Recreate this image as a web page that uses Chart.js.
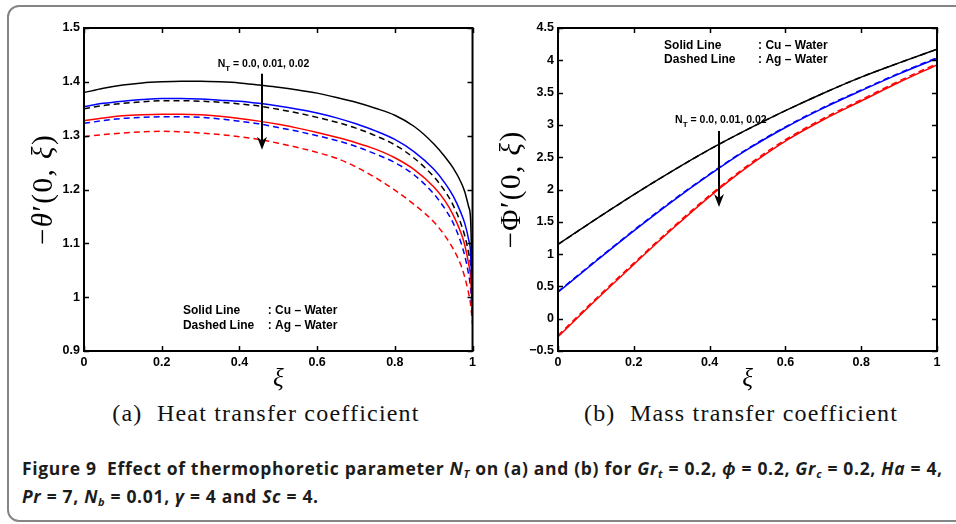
<!DOCTYPE html>
<html>
<head>
<meta charset="utf-8">
<style>
  *{margin:0;padding:0;box-sizing:border-box}
  html,body{width:956px;height:524px;background:#fff;overflow:hidden}
  body{position:relative}
  .frame{position:absolute;left:7px;top:5px;width:1000px;height:517px;border:2px solid #858585;border-radius:12px}
  canvas{position:absolute;top:0}
  #chartA{left:0}
  #chartB{left:480px}
  .sub{position:absolute;top:400px;width:480px;text-align:center;font-family:'Liberation Serif',serif;font-size:24px;letter-spacing:1.2px;color:#111;white-space:nowrap}
  .cap{position:absolute;left:22px;font-family:'Open Sans','Roboto',sans-serif;font-weight:bold;font-size:17.5px;letter-spacing:0.68px;color:#1c1c1c;white-space:nowrap}
  .cap i{font-style:italic}
  .cap sub{font-size:11px;vertical-align:-3px}
</style>
</head>
<body>
<div class="frame"></div>
<canvas id="chartA" width="480" height="400"></canvas>
<canvas id="chartB" width="476" height="400"></canvas>
<div class="sub" style="left:26px">(a)&nbsp; Heat transfer coefficient</div>
<div class="sub" style="left:501px">(b)&nbsp; Mass transfer coefficient</div>
<div class="cap" style="top:456px">Figure 9&nbsp; Effect of thermophoretic parameter <i>N<sub>T</sub></i> on (a) and (b) for <i>Gr<sub>t</sub></i> = 0.2, <i>ϕ</i> = 0.2, <i>Gr<sub>c</sub></i> = 0.2, <i>Ha</i> = 4,</div>
<div class="cap" style="top:484px"><i>Pr</i> = 7, <i>N<sub>b</sub></i> = 0.01, <i>γ</i> = 4 and <i>Sc</i> = 4.</div>

<script src="https://cdn.jsdelivr.net/npm/chart.js@4/dist/chart.umd.min.js"></script>
<script>
// ─── Data ──────────────────────────────────────────────────────

// (a) heat transfer coefficient  −θ′(0, ξ)
const xiA = [0, 0.05, 0.1, 0.15, 0.2, 0.25, 0.3, 0.35, 0.4, 0.45, 0.5, 0.55, 0.6,
  0.65, 0.7, 0.75, 0.8, 0.85, 0.9, 0.93, 0.95, 0.97, 0.98, 0.99, 0.995, 1.0];
const heatCuNt0 = [1.380, 1.388, 1.394, 1.398, 1.400, 1.401, 1.401, 1.400, 1.398, 1.394, 1.390, 1.385, 1.379,
  1.371, 1.362, 1.351, 1.338, 1.317, 1.285, 1.260, 1.240, 1.214, 1.196, 1.168, 1.145, 1.000];
const heatCuNt1 = [1.354, 1.360, 1.364, 1.367, 1.369, 1.369, 1.368, 1.366, 1.364, 1.360, 1.355, 1.349, 1.342,
  1.333, 1.322, 1.309, 1.293, 1.270, 1.238, 1.211, 1.188, 1.157, 1.137, 1.107, 1.082, 0.980];
const heatCuNt2 = [1.328, 1.333, 1.337, 1.339, 1.340, 1.340, 1.339, 1.336, 1.332, 1.327, 1.321, 1.314, 1.306,
  1.297, 1.287, 1.275, 1.259, 1.237, 1.205, 1.178, 1.153, 1.120, 1.097, 1.062, 1.037, 0.970];
const heatAgNt0 = [1.350, 1.356, 1.360, 1.363, 1.365, 1.365, 1.364, 1.362, 1.359, 1.355, 1.349, 1.342, 1.334,
  1.325, 1.314, 1.300, 1.283, 1.258, 1.224, 1.196, 1.171, 1.137, 1.114, 1.082, 1.057, 0.970];
const heatAgNt1 = [1.323, 1.328, 1.332, 1.334, 1.335, 1.335, 1.334, 1.331, 1.327, 1.322, 1.315, 1.308, 1.300,
  1.291, 1.280, 1.266, 1.250, 1.227, 1.192, 1.163, 1.138, 1.102, 1.077, 1.042, 1.017, 0.960];
const heatAgNt2 = [1.298, 1.302, 1.305, 1.307, 1.308, 1.307, 1.305, 1.302, 1.298, 1.293, 1.286, 1.278, 1.269,
  1.258, 1.242, 1.222, 1.199, 1.172, 1.140, 1.113, 1.090, 1.060, 1.037, 1.007, 0.987, 0.950];

// (b) mass transfer coefficient  −Φ′(0, ξ)
const xiB = [0, 0.1, 0.2, 0.3, 0.4, 0.5, 0.6, 0.7, 0.8, 0.9, 1.0];
const massCuNt0 = [1.15, 1.54, 1.92, 2.28, 2.62, 2.93, 3.22, 3.49, 3.74, 3.96, 4.17];
const massCuNt1 = [0.41, 0.89, 1.36, 1.81, 2.23, 2.62, 2.96, 3.26, 3.53, 3.79, 4.03];
const massCuNt2 = [-0.28, 0.29, 0.84, 1.38, 1.89, 2.35, 2.75, 3.08, 3.37, 3.66, 3.93];
const massAgNt0 = [1.15, 1.54, 1.92, 2.28, 2.62, 2.93, 3.22, 3.49, 3.74, 3.96, 4.17];
const massAgNt1 = [0.42, 0.90, 1.37, 1.82, 2.24, 2.63, 2.97, 3.27, 3.54, 3.80, 4.04];
const massAgNt2 = [-0.26, 0.31, 0.86, 1.40, 1.91, 2.37, 2.77, 3.10, 3.39, 3.68, 3.95];

// tick labels
const xTicks = [0, 0.2, 0.4, 0.6, 0.8, 1];
const yTicksA = [0.9, 1, 1.1, 1.2, 1.3, 1.4, 1.5];
const yTicksB = [-0.5, 0, 0.5, 1, 1.5, 2, 2.5, 3, 3.5, 4, 4.5];

// ─── Helpers ───────────────────────────────────────────────────

const TICK_FONT = { family: "'Liberation Sans', Arial, sans-serif", size: 12.5, weight: "bold" };

function pts(xs, ys) {
  return xs.map((x, i) => ({ x, y: ys[i] }));
}

function line(xs, ys, color, dashed) {
  return {
    data: pts(xs, ys),
    borderColor: color,
    borderWidth: 1.5,
    borderDash: dashed ? [6, 4] : [],
    pointRadius: 0,
    cubicInterpolationMode: "monotone",
    fill: false,
  };
}

function fmtTick(v) {
  const s = String(Math.round(v * 10) / 10);
  return s.replace("-", "\u2212");
}

// MATLAB-style box with inward ticks on all four sides
const boxPlugin = {
  id: "box",
  afterDatasetsDraw(chart) {
    const { ctx, chartArea: a, scales } = chart;
    const len = 5;
    ctx.save();
    ctx.strokeStyle = "#000";
    ctx.lineWidth = 1.5;
    ctx.beginPath();
    scales.x.ticks.forEach((t) => {
      const px = Math.round(scales.x.getPixelForValue(t.value)) + 0.5;
      ctx.moveTo(px, a.bottom); ctx.lineTo(px, a.bottom - len);
      ctx.moveTo(px, a.top); ctx.lineTo(px, a.top + len);
    });
    scales.y.ticks.forEach((t) => {
      const py = Math.round(scales.y.getPixelForValue(t.value)) + 0.5;
      ctx.moveTo(a.left, py); ctx.lineTo(a.left + len, py);
      ctx.moveTo(a.right, py); ctx.lineTo(a.right - len, py);
    });
    ctx.stroke();
    ctx.lineWidth = 2;
    ctx.strokeRect(a.left, a.top, a.right - a.left, a.bottom - a.top);
    ctx.restore();
  },
};

// rotated y title with mixed upright/italic parts
const yTitlePlugin = {
  id: "ytitle",
  afterDraw(chart, args, opts) {
    const { ctx, chartArea: a } = chart;
    const parts = opts.parts;
    const fontOf = (p) => `${p[1] ? "italic " : ""}29px 'Liberation Serif', serif`;
    ctx.save();
    ctx.translate(opts.x, (a.top + a.bottom) / 2);
    ctx.rotate(-Math.PI / 2);
    ctx.textBaseline = "middle";
    ctx.textAlign = "left";
    ctx.fillStyle = "#000";
    ctx.letterSpacing = "1.5px";
    let total = 0;
    const w = parts.map((p) => { ctx.font = fontOf(p); const m = ctx.measureText(p[0]).width; total += m; return m; });
    let x = -total / 2;
    parts.forEach((p, i) => { ctx.font = fontOf(p); ctx.fillText(p[0], x, 0); x += w[i]; });
    ctx.restore();
  },
};

// in-plot notes: N_T label + arrow, line-style key
const notesPlugin = {
  id: "notes",
  afterDraw(chart, args, o) {
    const { ctx, scales } = chart;
    const X = (v) => scales.x.getPixelForValue(v);
    const Y = (v) => scales.y.getPixelForValue(v);
    const fam = "'Liberation Sans', Arial, sans-serif";
    ctx.save();
    ctx.fillStyle = "#000";
    ctx.textBaseline = "alphabetic";
    ctx.textAlign = "left";

    // N_T = 0.0, 0.01, 0.02
    let nx = X(o.nt[0]), ny = Y(o.nt[1]);
    ctx.font = `bold 10.5px ${fam}`;
    ctx.fillText("N", nx, ny);
    nx += ctx.measureText("N").width;
    ctx.font = `bold 8px ${fam}`;
    ctx.fillText("T", nx, ny + 4);
    nx += ctx.measureText("T").width;
    ctx.font = `bold 10.5px ${fam}`;
    ctx.fillText(" = 0.0, 0.01, 0.02", nx, ny);

    // arrow
    const ax = Math.round(X(o.arrow[0])), y1 = Y(o.arrow[1]), y2 = Y(o.arrow[2]);
    ctx.strokeStyle = "#000";
    ctx.lineWidth = 2;
    ctx.beginPath();
    ctx.moveTo(ax, y1); ctx.lineTo(ax, y2 - 8);
    ctx.stroke();
    ctx.beginPath();
    ctx.moveTo(ax, y2);
    ctx.lineTo(ax - 5, y2 - 13);
    ctx.lineTo(ax, y2 - 9);
    ctx.lineTo(ax + 5, y2 - 13);
    ctx.closePath();
    ctx.fill();

    // key
    ctx.font = `bold 12px ${fam}`;
    const kx = X(o.key[0]), cx = X(o.key[1]);
    ctx.fillText("Solid Line", kx, Y(o.key[2]));
    ctx.fillText(": Cu \u2013 Water", cx, Y(o.key[2]));
    ctx.fillText("Dashed Line", kx, Y(o.key[3]));
    ctx.fillText(": Ag \u2013 Water", cx, Y(o.key[3]));
    ctx.restore();
  },
};

function buildConfig(xs, series, yRange, yTicks, layout, notes, titleParts) {
  const [cuN0, cuN1, cuN2, agN0, agN1, agN2] = series;
  return {
    type: "line",
    data: {
      datasets: [
        line(xs, cuN0, "#000000", false),
        line(xs, cuN1, "#0000ff", false),
        line(xs, cuN2, "#ff0000", false),
        line(xs, agN0, "#000000", true),
        line(xs, agN1, "#0000ff", true),
        line(xs, agN2, "#ff0000", true),
      ],
    },
    options: {
      responsive: false,
      animation: false,
      devicePixelRatio: 1,
      layout: { padding: { top: 28, right: layout.right, left: 0, bottom: 0 } },
      plugins: {
        legend: { display: false },
        tooltip: { enabled: false },
        ytitle: { parts: titleParts, x: layout.titleX },
        notes,
      },
      scales: {
        x: {
          type: "linear",
          min: 0,
          max: 1,
          afterBuildTicks: (s) => { s.ticks = xTicks.map((v) => ({ value: v })); },
          afterFit: (s) => { s.height = 49; },
          ticks: { color: "#000", font: TICK_FONT, padding: 4, maxRotation: 0, callback: (v) => fmtTick(v) },
          grid: { display: false, drawTicks: false },
          border: { display: false },
          title: {
            display: true,
            text: "\u03be",
            color: "#000",
            font: { family: "'Liberation Serif', serif", size: 25, style: "italic" },
            padding: { top: 0, bottom: 6 },
          },
        },
        y: {
          type: "linear",
          min: yRange[0],
          max: yRange[1],
          afterBuildTicks: (s) => { s.ticks = yTicks.map((v) => ({ value: v })); },
          afterFit: (s) => { s.width = layout.yWidth; },
          ticks: { color: "#000", font: TICK_FONT, padding: 4, callback: (v) => fmtTick(v) },
          grid: { display: false, drawTicks: false },
          border: { display: false },
        },
      },
    },
    plugins: [boxPlugin, yTitlePlugin, notesPlugin],
  };
}

new Chart(document.getElementById("chartA"), buildConfig(
  xiA,
  [heatCuNt0, heatCuNt1, heatCuNt2, heatAgNt0, heatAgNt1, heatAgNt2],
  [0.9, 1.5],
  yTicksA,
  { right: 7, yWidth: 84, titleX: 44 },
  { nt: [0.344, 1.428], arrow: [0.458, 1.415, 1.274], key: [0.2545, 0.473, 0.969, 0.941] },
  [["\u2212", 0], ["\u03b8", 1], ["\u2032(0, ", 0], ["\u03be", 1], [")", 0]]
));

new Chart(document.getElementById("chartB"), buildConfig(
  xiB,
  [massCuNt0, massCuNt1, massCuNt2, massAgNt0, massAgNt1, massAgNt2],
  [-0.5, 4.5],
  yTicksB,
  { right: 19, yWidth: 78, titleX: 32 },
  { nt: [0.309, 3.025], arrow: [0.425, 2.906, 1.73], key: [0.28, 0.528, 4.175, 3.958] },
  [["\u2212\u03a6\u2032(0, ", 0], ["\u03be", 1], [")", 0]]
));
</script>
</body>
</html>
